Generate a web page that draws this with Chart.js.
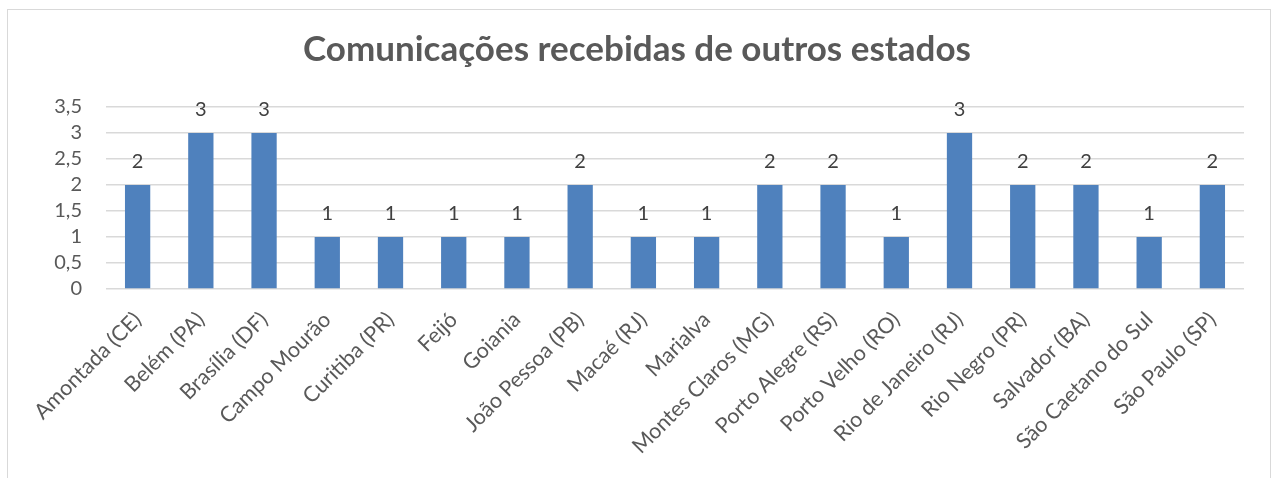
<!DOCTYPE html>
<html>
<head>
<meta charset="utf-8">
<script src="https://cdn.jsdelivr.net/npm/chart.js@4.4.1/dist/chart.umd.min.js"></script>
<style>
  html, body { margin: 0; padding: 0; background: #ffffff; }
  #wrap { position: relative; width: 1274px; height: 478px; overflow: hidden; }
  #frame { position: absolute; left: 7px; top: 9px; width: 1264px; height: 520px; border: 1px solid #d9d9d9; box-sizing: border-box; }
  #c { position: absolute; left: 0; top: 0; }
</style>
</head>
<body>
<div id="wrap">
  <div id="frame"></div>
  <canvas id="c" width="1274" height="478"></canvas>
</div>
<script>
const titleText = 'Comunicações recebidas de outros estados';
const categories = ['Amontada (CE)', 'Belém (PA)', 'Brasília (DF)', 'Campo Mourão', 'Curitiba (PR)', 'Feijó', 'Goiania', 'João Pessoa (PB)', 'Macaé (RJ)', 'Marialva', 'Montes Claros (MG)', 'Porto Alegre (RS)', 'Porto Velho (RO)', 'Rio de Janeiro (RJ)', 'Rio Negro (PR)', 'Salvador (BA)', 'São Caetano do Sul', 'São Paulo (SP)'];
const values = [2, 3, 3, 1, 1, 1, 1, 2, 1, 1, 2, 2, 1, 3, 2, 2, 1, 2];
const yTickLabels = ['0', '0,5', '1', '1,5', '2', '2,5', '3', '3,5'];

const FONT = 'Lato, "Open Sans", sans-serif';

const dataLabelPlugin = {
  id: 'dataLabels',
  afterDatasetsDraw(chart) {
    const ctx = chart.ctx;
    const meta = chart.getDatasetMeta(0);
    ctx.save();
    ctx.font = '20px ' + FONT;
    ctx.fillStyle = '#404040';
    ctx.textAlign = 'center';
    ctx.textBaseline = 'middle';
    meta.data.forEach((bar, i) => {
      ctx.fillText(String(values[i]), bar.x, bar.y - 23);
    });
    ctx.restore();
  }
};

new Chart(document.getElementById('c'), {
  type: 'bar',
  data: {
    labels: categories,
    datasets: [{
      data: values,
      backgroundColor: '#4F81BD',
      borderWidth: 0,
      barPercentage: 0.4,
      categoryPercentage: 1.0
    }]
  },
  options: {
    responsive: false,
    animation: false,
    devicePixelRatio: 1,
    layout: { padding: { left: 30, right: 30, top: 0, bottom: 0 } },
    plugins: {
      legend: { display: false },
      tooltip: { enabled: false },
      title: {
        display: true,
        text: titleText,
        color: '#595959',
        font: { family: FONT, size: 35, weight: 'bold', lineHeight: 1.2 },
        padding: { top: 29, bottom: 36 }
      }
    },
    scales: {
      x: {
        grid: { display: false },
        border: { display: false },
        ticks: {
          color: '#595959',
          font: { family: FONT, size: 21.5 },
          minRotation: 45,
          maxRotation: 45,
          autoSkip: false,
          padding: 10
        },
        afterFit(scale) { scale.height = 189; }
      },
      y: {
        min: 0,
        max: 3.5,
        grid: { color: '#d9d9d9', lineWidth: 1.5, drawTicks: false },
        border: { display: false },
        ticks: {
          stepSize: 0.5,
          autoSkip: false,
          color: '#595959',
          font: { family: FONT, size: 20 },
          padding: 24,
          callback(value, index) { return yTickLabels[index]; }
        },
        afterFit(scale) { scale.width = 76; }
      }
    }
  },
  plugins: [dataLabelPlugin]
});
</script>
</body>
</html>
